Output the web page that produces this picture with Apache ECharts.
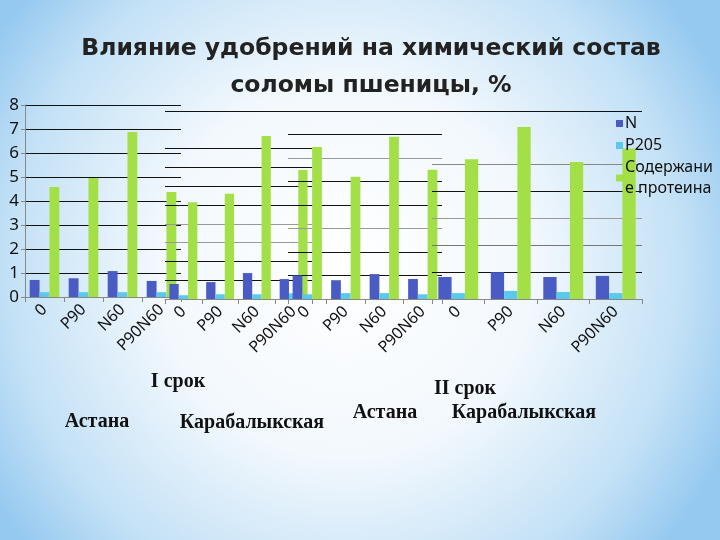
<!DOCTYPE html>
<html>
<head>
<meta charset="utf-8">
<script src="https://cdn.jsdelivr.net/npm/echarts@6/dist/echarts.min.js"></script>
<style>html,body{margin:0;padding:0;}#c{width:720px;height:540px;}</style>
</head>
<body>
<div id="c"></div>
<script>
var categories = ['0', 'P90', 'N60', 'P90N60'];
var seriesNames = ['N', 'P205', 'Содержание протеина'];
var yLabels1 = [0, 1, 2, 3, 4, 5, 6, 7, 8];

// I срок — Астана
var astana1N = [0.71, 0.78, 1.08, 0.67];
var astana1P = [0.2, 0.2, 0.2, 0.2];
var astana1Prot = [4.58, 4.96, 6.87, 4.37];
// I срок — Карабалыкская
var karab1N = [0.8, 0.9, 1.38, 1.06];
var karab1P = [0.2, 0.25, 0.25, 0.3];
var karab1Prot = [5.15, 5.6, 8.67, 6.86];
// II срок — Астана
var astana2N = [1.0, 0.8, 1.06, 0.85];
var astana2P = [0.2, 0.25, 0.25, 0.2];
var astana2Prot = [6.47, 5.2, 6.9, 5.5];
// II срок — Карабалыкская
var karab2N = [0.82, 1.0, 0.82, 0.86];
var karab2P = [0.22, 0.3, 0.26, 0.22];
var karab2Prot = [5.2, 6.4, 5.1, 5.6];

var panels = [
  {N: astana1N, P: astana1P, Prot: astana1Prot, max: 8,  grid: {left: 25,  top: 105, width: 156, height: 192}, showY: true,
   lines: ['#111','#111','#111','#111','#111','#111','#111','#111','#111']},
  {N: karab1N,  P: karab1P,  Prot: karab1Prot,  max: 10, grid: {left: 165, top: 111, width: 147, height: 188}, showY: false,
   lines: ['#111','#111','#111','#999','#999','#111','#111','#111','#111','rgba(0,0,0,0)','#111']},
  {N: astana2N, P: astana2P, Prot: astana2Prot, max: 8,  grid: {left: 288, top: 111, width: 154, height: 188}, showY: false,
   lines: ['#111','#111','#111','#999','#111','#111','#999','#111','#111']},
  {N: karab2N,  P: karab2P,  Prot: karab2Prot,  max: 7,  grid: {left: 432, top: 111, width: 210, height: 188}, showY: false,
   lines: ['#111','#111','#777','#999','#111','#888','rgba(0,0,0,0)','#111']}
];

var colors = ['#4a5cc4', '#5bc8ee', '#a3e048'];
var grids = [], xAxes = [], yAxes = [], series = [];
panels.forEach(function (p, i) {
  grids.push(p.grid);
  xAxes.push({
    type: 'category', gridIndex: i, data: categories, z: 10 * i + 1,
    axisLine: {show: true, lineStyle: {color: '#888', width: 1}},
    axisTick: {show: true, alignWithLabel: false, lineStyle: {color: '#888'}},
    axisLabel: {rotate: 45, fontSize: 16, color: '#111', fontFamily: 'Noto Sans', margin: 10, interval: 0}
  });
  yAxes.push({
    type: 'value', gridIndex: i, min: 0, max: p.max, interval: 1, z: 10 * i + 1,
    axisLine: {show: p.showY, lineStyle: {color: '#888'}},
    axisTick: {show: p.showY, length: 4, lineStyle: {color: '#888'}},
    axisLabel: {show: p.showY, fontSize: 17, color: '#111', fontFamily: 'Noto Sans', margin: 6,
      formatter: function (v) { return yLabels1.indexOf(v) >= 0 ? String(v) : ''; }},
    splitLine: {show: true, lineStyle: {color: p.lines, width: 1}}
  });
  [p.N, p.P, p.Prot].forEach(function (d, k) {
    series.push({
      name: seriesNames[k], type: 'bar', xAxisIndex: i, yAxisIndex: i, data: d,
      barGap: '0%', barCategoryGap: '24%', z: 10 * i + 2,
      itemStyle: {color: colors[k]}, silent: true, animation: false
    });
  });
});

var chart = echarts.init(document.getElementById('c'));
chart.setOption({
  animation: false,
  backgroundColor: {
    type: 'radial', x: 0.48, y: 0.5, r: 0.78,
    colorStops: [
      {offset: 0, color: '#ffffff'},
      {offset: 0.45, color: '#f2f8fd'},
      {offset: 0.8, color: '#c3e1f6'},
      {offset: 1, color: '#95c9f0'}
    ]
  },
  color: colors,
  legend: {
    orient: 'vertical', left: 611, top: 108, z: 100,
    itemWidth: 7, itemHeight: 7, itemGap: 1, icon: 'rect',
    data: seriesNames,
    formatter: function (n) { return n === 'Содержание протеина' ? 'Содержани\nе протеина' : n; },
    textStyle: {fontSize: 16, lineHeight: 21, color: '#111', fontFamily: 'Noto Sans', padding: [0, 0, 0, -3]}
  },
  grid: grids, xAxis: xAxes, yAxis: yAxes, series: series,
  graphic: [
    {type: 'text', x: 371, y: 67, z: 100, style: {text: 'Влияние удобрений на химический состав\nсоломы пшеницы, %',
      font: 'bold 23.5px "DejaVu Sans"', fill: '#222', align: 'center', verticalAlign: 'middle', lineHeight: 37}},
    {type: 'text', x: 178, y: 382, style: {text: 'I срок', font: 'bold 20px "Liberation Serif"', fill: '#111', align: 'center', verticalAlign: 'middle'}},
    {type: 'text', x: 97, y: 422, style: {text: 'Астана', font: 'bold 20px "Liberation Serif"', fill: '#111', align: 'center', verticalAlign: 'middle'}},
    {type: 'text', x: 252, y: 423, style: {text: 'Карабалыкская', font: 'bold 20px "Liberation Serif"', fill: '#111', align: 'center', verticalAlign: 'middle'}},
    {type: 'text', x: 465, y: 389, style: {text: 'II срок', font: 'bold 20px "Liberation Serif"', fill: '#111', align: 'center', verticalAlign: 'middle'}},
    {type: 'text', x: 385, y: 413, style: {text: 'Астана', font: 'bold 20px "Liberation Serif"', fill: '#111', align: 'center', verticalAlign: 'middle'}},
    {type: 'text', x: 524, y: 413, style: {text: 'Карабалыкская', font: 'bold 20px "Liberation Serif"', fill: '#111', align: 'center', verticalAlign: 'middle'}}
  ]
});
</script>
</body>
</html>
